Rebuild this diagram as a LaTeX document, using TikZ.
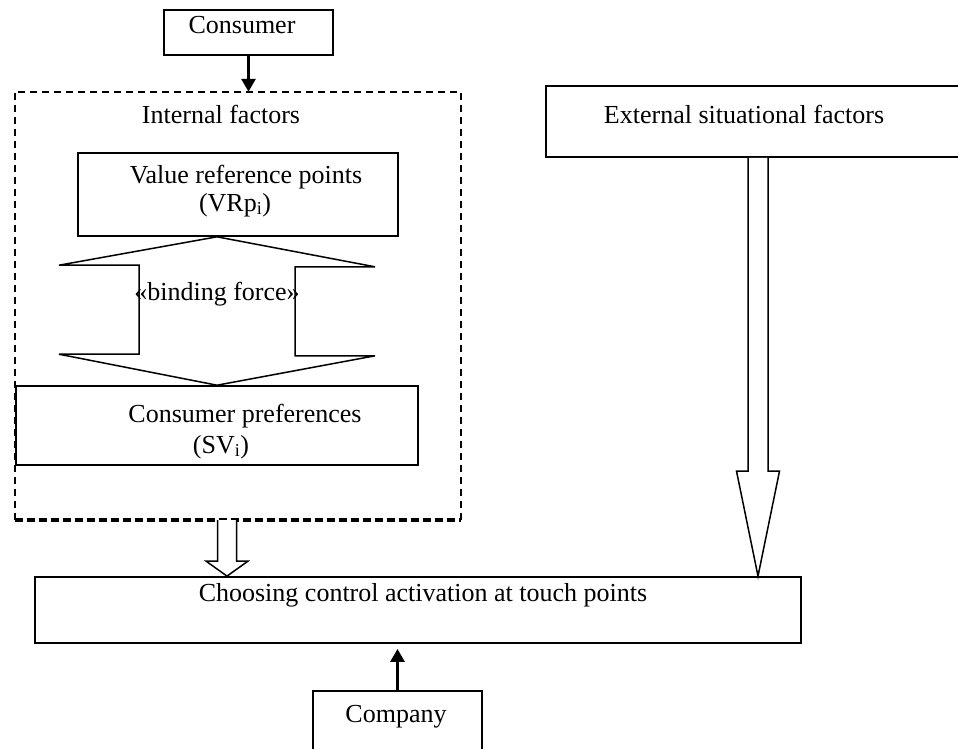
\documentclass[tikz,border=0pt]{standalone}
\usepackage{fontspec}
\setmainfont{Liberation Serif}
\usetikzlibrary{arrows.meta,calc}
\begin{document}
\begin{tikzpicture}[x=1pt,y=-1pt,
  box/.style={draw, line width=1.6pt, inner sep=0pt},
  lbl/.style={inner sep=0pt, anchor=base, font=\fontsize{26}{30}\selectfont},
  hollow/.style={draw, line width=1.5pt, fill=white, line join=miter},
  solidarrow/.style={line width=2.8pt, -{Triangle[length=13pt,width=14pt]}},
  dashthin/.style={line width=1.6pt, dash pattern=on 7pt off 5pt},
  dashthick/.style={line width=4pt, dash pattern=on 8pt off 4pt}]
\useasboundingbox (0,0) rectangle (958,748);
\clip (0,0) rectangle (958,748);
% boxes
\node[box, minimum width=169pt, minimum height=45pt] (consumer) at (248.5,32.5) {};
\node[inner sep=0pt, minimum width=446pt, minimum height=428pt] (internal) at (238,306) {};
\node[box, minimum width=320pt, minimum height=83pt] (vrp) at (238,194.5) {};
\node[box, minimum width=402pt, minimum height=79pt] (cp) at (217,425.5) {};
\node[box, minimum width=424pt, minimum height=71pt] (external) at (758,121.5) {};
\node[box, line width=1.8pt, minimum width=766pt, minimum height=66pt] (choosing) at (418,610) {};
\node[box, minimum width=169pt, minimum height=69pt] (company) at (397.5,725.5) {};
% dashed frame
\draw[dashthin] (internal.south west) -- (internal.north west) -- (internal.north east) -- (internal.south east);
\draw[dashthick] (internal.south west) -- (internal.south east);
% binding force double arrow
\draw[hollow] (cp.north |- vrp.south) -- ++(158,30) -- ++(-80,0) -- ++(0,89) -- ++(80,0)
  -- (cp.north) -- ++(-158,-31) -- ++(80,0) -- ++(0,-89) -- ++(-80,0) -- cycle;
% solid arrows
\draw[solidarrow] (consumer.south) -- (consumer.south |- internal.north);
\draw[solidarrow] (company.north) -- ($(company.north |- choosing.south)+(0,5)$);
% hollow arrow from internal factors
\coordinate (h1s) at (227,520);
\coordinate (h1e) at (h1s |- choosing.north);
\draw[hollow] ($(h1s)+(-9.5,0)$) -- ($(h1e)+(-9.5,-15)$) -- ($(h1e)+(-21,-15)$) -- (h1e)
  -- ($(h1e)+(21,-15)$) -- ($(h1e)+(9.5,-15)$) -- ($(h1s)+(9.5,0)$);
% hollow arrow from external factors
\coordinate (h2s) at (external.south -| 758,0);
\coordinate (h2e) at (h2s |- choosing.north);
\draw[hollow] ($(h2s)+(-10,0)$) -- ($(h2e)+(-10,-105)$) -- ($(h2e)+(-21.5,-105)$) -- (h2e)
  -- ($(h2e)+(21.5,-105)$) -- ($(h2e)+(10,-105)$) -- ($(h2s)+(10,0)$);
% texts
\node[lbl] (tconsumer) at (242,33) {Consumer};
\node[lbl] (tinternal) at (221,123) {Internal factors};
\node[lbl] (tvrp) at (246,183) {Value reference points};
\node[lbl] (tvrpi) at (235,211) {(VRp\textsubscript{i})};
\node[lbl] (tbind) at (217,300) {«binding force»};
\node[lbl] (tcp) at (245,422) {Consumer preferences};
\node[lbl] (tsvi) at (221,453) {(SV\textsubscript{i})};
\node[lbl] (text) at (744,123) {External situational factors};
\node[lbl] (tchoose) at (423,601) {Choosing control activation at touch points};
\node[lbl] (tcompany) at (396,722) {Company};
\end{tikzpicture}
\end{document}
